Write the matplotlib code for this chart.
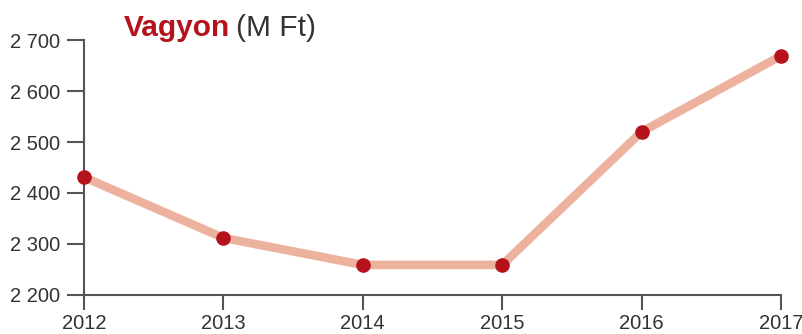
import matplotlib
matplotlib.use("Agg")
import matplotlib.pyplot as plt

years = [2012, 2013, 2014, 2015, 2016, 2017]
values = [2431, 2312, 2259, 2259, 2520, 2669]
yticks = [2200, 2300, 2400, 2500, 2600, 2700]
ytick_labels = ["2 200", "2 300", "2 400", "2 500", "2 600", "2 700"]

plt.rcParams["font.family"] = ["Liberation Sans", "DejaVu Sans"]

line_color = "#edb29e"
dot_color = "#b5121b"
axis_color = "#555555"
text_color = "#333333"

fig = plt.figure(figsize=(8.03, 3.34), dpi=100)
ax = fig.add_axes([0.1046, 0.1168, 0.868, 0.7634])

ax.plot(years, values, color=line_color, lw=6.2, solid_capstyle="round", zorder=2, clip_on=False)
ax.plot(years, values, "o", color=dot_color, ms=9.5, zorder=3, clip_on=False)

ax.set_xlim(2012, 2017)
ax.set_ylim(2200, 2700)
ax.set_xticks(years)
ax.set_xticklabels([str(y) for y in years])
ax.set_yticks(yticks)
ax.set_yticklabels(ytick_labels)

for s in ["top", "right"]:
    ax.spines[s].set_visible(False)
for s in ["left", "bottom"]:
    ax.spines[s].set_color(axis_color)
    ax.spines[s].set_linewidth(1.5)

ax.tick_params(axis="both", colors=axis_color, width=1.5,
               labelcolor=text_color, labelsize=14.5)
ax.tick_params(axis="x", length=11, pad=3)
ax.tick_params(axis="y", length=12, pad=5)

t1 = fig.text(124 / 803, 1 - 36 / 334, "Vagyon", color=dot_color,
              fontsize=21.5, fontweight="bold", va="baseline", ha="left")
fig.canvas.draw()
bb = t1.get_window_extent()
x2 = (bb.x1 + 6) / fig.bbox.width
fig.text(x2, 1 - 36 / 334, "(M Ft)", color=text_color, fontsize=21.5,
         va="baseline", ha="left")

fig.savefig("out.png", dpi=100)
